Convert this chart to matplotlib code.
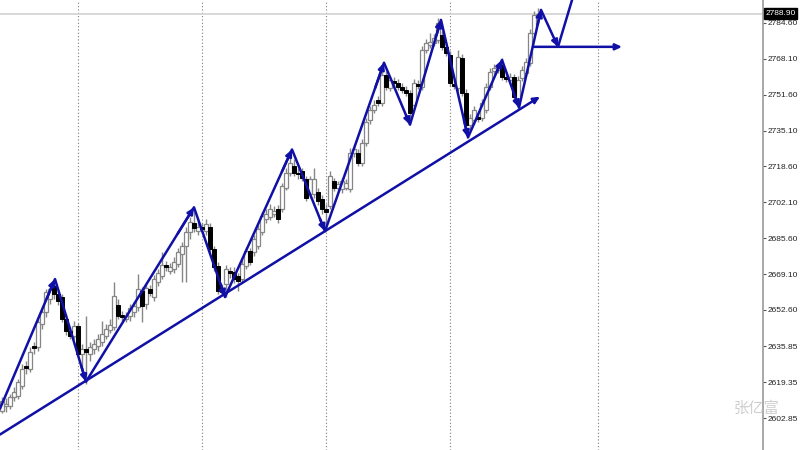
import numpy as np
import matplotlib
matplotlib.use("Agg")
import matplotlib.pyplot as plt
from matplotlib.transforms import blended_transform_factory

# candle data (price units), one entry per bar
opens = [2606.3, 2608.2, 2608.6, 2612.7, 2613.2, 2617.7, 2626.9, 2625.5, 2636.1, 2635.6,
         2646.2, 2651.7, 2657.6, 2663.6, 2659.9, 2658.5, 2648.5, 2642.9, 2640.6, 2645.2,
         2632.4, 2634.7, 2632.4, 2634.7, 2636.1, 2637.9, 2640.6, 2643.4, 2644.8, 2654.9,
         2650.3, 2648.5, 2649.8, 2651.7, 2654.0, 2661.3, 2655.3, 2662.2, 2658.5, 2665.4,
         2668.2, 2673.2, 2670.4, 2671.4, 2673.7, 2678.2, 2681.9, 2688.3, 2692.4, 2688.8,
         2690.6, 2688.8, 2690.6, 2680.5, 2672.7, 2662.2, 2664.5, 2670.4, 2670.0, 2668.2,
         2666.8, 2672.7, 2679.6, 2679.2, 2681.9, 2688.3, 2694.3, 2695.2, 2696.6, 2698.9,
         2698.9, 2708.9, 2715.8, 2718.6, 2715.8, 2716.3, 2712.6, 2705.7, 2705.7, 2706.7,
         2703.5, 2698.9, 2700.2, 2711.7, 2708.9, 2708.0, 2708.9, 2708.0, 2725.0, 2725.0,
         2720.4, 2729.6, 2740.1, 2744.7, 2749.3, 2747.9, 2760.7, 2754.8, 2758.0, 2757.1,
         2755.2, 2753.9, 2752.5, 2747.0, 2756.6, 2755.2, 2772.2, 2774.5, 2775.4, 2776.8,
         2779.1, 2773.6, 2769.9, 2756.6, 2754.8, 2768.5, 2752.5, 2737.8, 2740.1, 2741.5,
         2741.0, 2744.7, 2755.2, 2762.6, 2763.0, 2765.3, 2759.8, 2758.4, 2759.8, 2749.3,
         2759.3, 2761.6, 2766.2, 2780.0, 2788.2]
highs = [2612.7, 2612.2, 2614.1, 2617.3, 2620.9, 2627.8, 2629.2, 2635.6, 2637.9, 2649.4,
         2654.0, 2662.2, 2664.5, 2666.8, 2662.2, 2659.9, 2650.7, 2644.8, 2647.5, 2646.6,
         2637.0, 2649.8, 2637.9, 2639.3, 2641.6, 2647.5, 2646.2, 2648.5, 2665.4, 2657.6,
         2652.1, 2651.7, 2655.3, 2656.2, 2669.1, 2663.1, 2664.5, 2664.0, 2668.6, 2671.4,
         2679.2, 2675.0, 2674.1, 2676.9, 2681.0, 2683.7, 2690.6, 2695.2, 2698.9, 2693.4,
         2692.4, 2694.3, 2692.4, 2681.9, 2674.6, 2664.5, 2673.2, 2672.3, 2672.3, 2669.5,
         2676.0, 2681.4, 2681.0, 2686.9, 2691.5, 2697.5, 2698.9, 2701.1, 2700.2, 2700.7,
         2711.2, 2718.1, 2725.0, 2721.8, 2718.1, 2718.1, 2714.4, 2714.4, 2718.1, 2708.5,
         2705.3, 2701.1, 2716.3, 2713.5, 2712.1, 2713.5, 2712.6, 2727.3, 2728.2, 2726.8,
         2731.4, 2741.0, 2746.5, 2749.3, 2751.1, 2765.8, 2762.6, 2760.3, 2759.8, 2758.9,
         2757.1, 2755.7, 2753.9, 2758.9, 2758.4, 2774.0, 2777.2, 2780.0, 2779.5, 2786.9,
         2780.9, 2775.4, 2771.7, 2758.4, 2772.2, 2770.4, 2754.3, 2742.9, 2746.5, 2743.3,
         2749.7, 2757.1, 2763.9, 2765.8, 2766.2, 2768.5, 2761.6, 2761.6, 2761.2, 2760.3,
         2764.9, 2768.5, 2781.8, 2790.1, 2791.4]
lows = [2605.4, 2605.8, 2607.2, 2610.9, 2611.8, 2616.4, 2623.2, 2624.2, 2632.4, 2633.8,
        2643.9, 2649.4, 2655.3, 2657.6, 2654.9, 2647.1, 2641.1, 2639.3, 2639.3, 2631.0,
        2624.6, 2618.7, 2629.2, 2632.4, 2633.8, 2636.1, 2639.3, 2642.0, 2643.4, 2648.5,
        2647.5, 2647.1, 2647.5, 2649.4, 2652.1, 2647.1, 2653.0, 2659.0, 2656.7, 2663.6,
        2666.8, 2670.4, 2669.1, 2669.5, 2672.3, 2665.4, 2665.4, 2685.1, 2688.3, 2686.9,
        2687.9, 2686.9, 2679.2, 2670.4, 2659.9, 2659.5, 2658.5, 2667.2, 2665.0, 2661.3,
        2665.0, 2671.4, 2673.2, 2677.3, 2680.5, 2686.9, 2692.4, 2693.8, 2695.2, 2692.4,
        2697.5, 2707.6, 2714.4, 2714.4, 2712.6, 2711.7, 2702.5, 2704.3, 2704.3, 2700.7,
        2696.6, 2690.2, 2698.9, 2707.1, 2707.6, 2706.2, 2707.6, 2706.7, 2723.1, 2719.0,
        2719.0, 2728.2, 2738.3, 2743.3, 2746.5, 2746.5, 2753.9, 2753.4, 2755.7, 2753.9,
        2752.5, 2751.1, 2738.7, 2745.6, 2754.3, 2753.9, 2770.8, 2773.1, 2774.0, 2775.4,
        2772.2, 2769.4, 2755.7, 2754.3, 2753.4, 2751.1, 2733.2, 2735.5, 2738.3, 2739.2,
        2739.7, 2743.3, 2753.9, 2761.2, 2761.6, 2758.4, 2757.5, 2757.1, 2749.3, 2746.5,
        2758.0, 2760.3, 2764.9, 2778.6, 2786.9]
closes = [2610.9, 2609.5, 2612.7, 2615.0, 2619.6, 2625.5, 2626.0, 2633.3, 2635.2, 2647.1,
          2651.7, 2660.8, 2662.2, 2659.9, 2656.7, 2648.5, 2642.9, 2640.6, 2645.2, 2632.4,
          2634.7, 2633.3, 2635.6, 2637.0, 2639.3, 2641.6, 2643.9, 2645.7, 2659.0, 2649.8,
          2649.4, 2649.8, 2653.5, 2654.4, 2662.2, 2654.4, 2662.7, 2660.4, 2666.8, 2669.5,
          2673.2, 2672.3, 2672.3, 2674.6, 2679.2, 2681.9, 2688.3, 2692.9, 2690.2, 2690.6,
          2689.7, 2692.0, 2680.5, 2672.3, 2661.3, 2660.8, 2671.4, 2669.5, 2666.8, 2665.9,
          2673.7, 2679.6, 2674.6, 2685.1, 2689.7, 2695.6, 2696.6, 2698.9, 2697.9, 2694.3,
          2709.4, 2715.8, 2720.4, 2715.8, 2714.9, 2713.5, 2704.3, 2712.6, 2712.6, 2702.5,
          2698.9, 2697.5, 2714.0, 2708.9, 2710.3, 2711.7, 2710.8, 2725.0, 2726.4, 2720.4,
          2729.6, 2739.2, 2744.7, 2747.0, 2747.9, 2760.7, 2755.2, 2758.4, 2757.1, 2755.2,
          2753.9, 2752.5, 2743.3, 2757.1, 2755.7, 2772.2, 2775.4, 2775.9, 2777.7, 2784.6,
          2773.6, 2770.8, 2757.1, 2755.7, 2769.0, 2752.5, 2737.8, 2741.0, 2744.7, 2740.6,
          2747.9, 2755.2, 2762.1, 2763.9, 2764.4, 2759.8, 2758.9, 2759.8, 2750.6, 2758.4,
          2763.0, 2766.7, 2780.0, 2788.2, 2788.9]

# hand drawn zigzag (bar index, price)
zz_x = [-0.5, 13.25, 21, 48, 55.75, 72.5, 80.75, 95.5, 102, 109.75, 116.5, 125, 129.25, 134.75, 139, 143.25]
zz_y = [2607.2, 2666.8, 2619.6, 2699.8, 2658.5, 2726.4, 2688.8, 2766.3, 2737.8, 2786.0,
        2731.9, 2767.6, 2745.6, 2790.6, 2773.6, 2799.7]
trend_x = [-0.5, 134.5]
trend_y = [2595.3, 2750.7]
level_x = [132.75, 155]
level_y = [2773.6, 2773.6]

bid = 2788.90
day_lines = [19, 50, 81, 112, 149]
ytick_vals = [2784.60, 2768.10, 2751.60, 2735.10, 2718.60, 2702.10, 2685.60,
              2669.10, 2652.60, 2635.85, 2619.35, 2602.85]

blue = '#1010a6'
head = '-|>,head_length=0.38,head_width=0.18'

fig = plt.figure(figsize=(8, 4.5), dpi=100)
ax = fig.add_axes([0, 0, 763 / 800, 1])
ax.set_xlim(-0.5, 190.25)
ax.set_ylim(2588.18, 2795.14)

for d in day_lines:
    ax.axvline(d, color='#7a7a7a', lw=0.8, ls=(0, (1, 2)), zorder=1)
ax.axhline(bid, color='#d2d2d2', lw=1.2, zorder=1)

idx = np.arange(len(opens))
o = np.array(opens)
c = np.array(closes)
ax.vlines(idx, lows, highs, color='#868686', lw=1.0, zorder=2)
up = c >= o
ax.bar(idx[up], c[up] - o[up], bottom=o[up], width=0.8, color='white',
       edgecolor='#868686', linewidth=0.9, zorder=3)
ax.bar(idx[~up], o[~up] - c[~up], bottom=c[~up], width=0.8, color='black',
       edgecolor='black', linewidth=0.7, zorder=3)

# zigzag with arrow heads at each turn
ax.plot(zz_x, zz_y, color=blue, lw=1.8, zorder=5, solid_capstyle='round')
for i in range(len(zz_x) - 2):
    x0, y0, x1, y1 = zz_x[i], zz_y[i], zz_x[i + 1], zz_y[i + 1]
    ax.annotate('', xy=(x1, y1), xytext=(x1 - 0.15 * (x1 - x0), y1 - 0.15 * (y1 - y0)),
                arrowprops=dict(arrowstyle=head, color=blue, lw=1.8,
                                shrinkA=0, shrinkB=0), zorder=6)

for xs, ys in [(trend_x, trend_y), (level_x, level_y)]:
    ax.annotate('', xy=(xs[1], ys[1]), xytext=(xs[0], ys[0]),
                arrowprops=dict(arrowstyle=head, color=blue, lw=1.8,
                                shrinkA=0, shrinkB=0), zorder=6)

for s in ['top', 'left', 'bottom']:
    ax.spines[s].set_visible(False)
ax.spines['right'].set_color('#9a9a9a')
ax.spines['right'].set_linewidth(1.2)
ax.set_xticks([])
ax.yaxis.tick_right()
ax.set_yticks(ytick_vals)
ax.set_yticklabels(['%.2f' % v for v in ytick_vals])
ax.tick_params(axis='y', length=2, width=0.8, color='#555555', pad=1,
               labelsize=6.0, labelcolor='#222222')
for lab in ax.get_yticklabels():
    lab.set_family('Liberation Sans')

tr = blended_transform_factory(ax.transAxes, ax.transData)
ax.text(1.003, bid, '%.2f' % bid, transform=tr, ha='left', va='center',
        fontsize=6.0, family='Liberation Sans', color='white', clip_on=False,
        bbox=dict(boxstyle='square,pad=0.2', fc='black', ec='black'))

fig.text(757 / 800, 1 - 408 / 450, '张亿富', ha='center', va='center', fontsize=11,
         color='#cfcfcf', family=['Noto Sans CJK SC', 'DejaVu Sans'])

fig.savefig('out.png', dpi=100, facecolor='white')
